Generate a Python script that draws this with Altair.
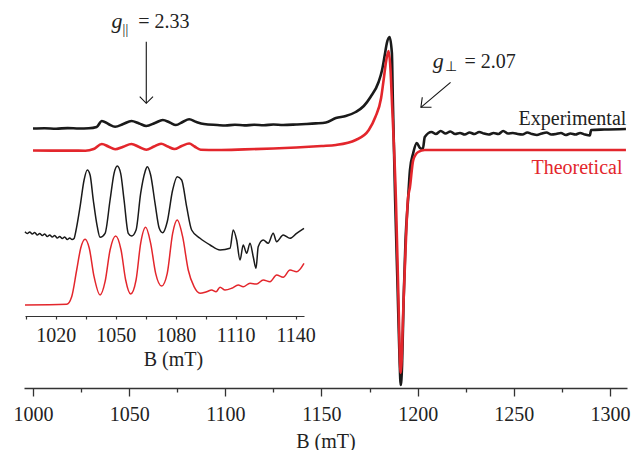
import altair as alt
import pandas as pd

# ---------------- main spectrum (B in mT, intensity in a.u.) ----------------
exp_B = [1000, 1006, 1012, 1018, 1024, 1029, 1033.1, 1035.8, 1039.2, 1042.7, 1046.9,
         1051.2, 1055.2, 1058.9, 1063.4, 1067.5, 1071.1, 1074.3, 1077.8, 1081.2, 1085.0,
         1088.9, 1095.8, 1100, 1105, 1110, 1115, 1120, 1125, 1130, 1136.9, 1142, 1147,
         1152.3, 1157.5, 1162.6, 1167.8, 1172, 1175.5, 1179.7, 1181.5, 1182.9, 1184.0,
         1185.4, 1186.6, 1187.1, 1188.3, 1189.6, 1190.6, 1191.2, 1191.9, 1192.7, 1193.7,
         1195.0, 1196.0, 1197.7, 1199.5, 1201.2, 1202.7, 1203.7, 1207.2,
         1209.5, 1212, 1214.5, 1217, 1219.5, 1222, 1224.5, 1227, 1229.5, 1232, 1234.5,
         1237, 1239.5, 1242, 1244.5, 1247, 1249.5, 1252, 1254.5, 1257, 1259.5, 1262,
         1264.5, 1267, 1269.5, 1272, 1274.5, 1277, 1279.5, 1282, 1284.5, 1287, 1289.5,
         1290.2, 1297, 1308.3]
exp_I = [259.5, 259.8, 259.3, 259.9, 259.5, 259.7, 261, 267, 264, 261.3, 264,
         267, 264.5, 262, 265, 268, 265.5, 263, 266, 268.7, 266,
         264, 263, 262.5, 263.3, 262.6, 263.2, 262.7, 263.5, 263, 263.5, 264, 264.6,
         265.5, 270, 272, 276, 282, 291, 306, 318, 333, 345,
         351, 335, 288, 188, 98, 28, 3, 23, 88, 148,
         188, 218, 235, 245, 240, 239, 251, 256,
         254, 257, 254.5, 256.5, 254, 255, 253.5, 255.5, 254, 256, 254.5,
         253.5, 255, 254, 257, 254.5, 255, 254, 253.5, 255.5, 254, 253,
         254.5, 255.5, 253.5, 254, 255, 253, 254.5, 253.5, 255, 253.5, 252.5,
         258, 258.5, 259]

theo_B = [1000, 1010, 1020, 1027.2, 1031.5, 1035.8, 1039.2, 1042.7, 1046.9, 1051.2,
          1055.2, 1058.9, 1062.9, 1066.6, 1070.1, 1073.5, 1077.3, 1081.2, 1084.0, 1087.2,
          1095.8, 1110, 1125, 1136.9, 1150, 1157.5, 1167.8, 1174.6, 1178.0, 1181.0,
          1182.3, 1183.7, 1184.9, 1185.9, 1186.6, 1188.7, 1189.9, 1191.2, 1192.7, 1193.7,
          1194.9, 1196.0, 1197.7, 1200.3, 1203.7, 1250, 1308.3]
theo_I = [237.5, 237.4, 237.4, 237.3, 239, 244, 241.5, 238.7, 241.3, 244,
          241, 238.3, 241.5, 244.3, 241.5, 239, 242, 244.5, 241.5, 238.3,
          238, 238.6, 239.5, 240.5, 242, 243, 248, 258, 271, 290,
          308, 328, 337, 318, 288, 188, 98, 15, 88, 138,
          188, 201, 228, 236, 238, 238, 238]

# ---------------- inset (parallel region, B in mT) ----------------
ins_exp_B = [1004.65, 1005.8, 1007.0, 1008.3, 1009.5, 1010.8, 1012.0, 1013.3, 1014.5,
             1015.8, 1017.0, 1018.3, 1019.5, 1020.8, 1022.0, 1023.3, 1024.5, 1025.8,
             1027.0, 1028.2, 1029.2, 1030.0, 1032.2, 1034.2, 1035.8,
             1037.2, 1038.8, 1040.8, 1042.2, 1044.7, 1047.2, 1049.2, 1050.8, 1052.5,
             1054.2, 1056.3, 1058.0, 1060.2, 1062.5, 1064.7, 1065.8, 1067.5, 1069.7,
             1071.8, 1073.5, 1075.8, 1078.5, 1080.8, 1083.0, 1085.5, 1088.0, 1092.2,
             1097.2, 1102.2, 1107.2, 1108.8, 1110.5, 1112.2, 1113.8, 1115.5, 1117.2,
             1118.8, 1120.2, 1121.3, 1123.8, 1126.3, 1128.8, 1130.5, 1133.8, 1137.2,
             1140.5, 1144.2]
ins_exp_I = [84.3, 82.5, 84, 82, 83.5, 81, 82.5, 80.5, 82,
             79.5, 81, 79, 80.5, 78, 79.5, 77.5, 79, 76.5,
             78, 76.5, 77.5, 84, 109.3, 136, 146,
             141, 116, 89.3, 78.7, 82.7, 116, 142.7, 150, 142.7,
             116, 82.7, 80, 86, 122.7, 144.3, 149.3, 141, 112.7,
             87.7, 83.3, 94.3, 126, 139.3, 136, 109.3, 86, 77.7,
             71, 66, 67.7, 86, 76, 56, 71, 62.7, 72.7,
             59.3, 47.7, 69.3, 76, 72.7, 82.7, 74.3, 81, 77.7,
             82.7, 87.7]

ins_theo_B = [1004.65, 1025.5, 1028.0, 1030.5, 1032.5, 1034.7, 1036.8, 1039.2, 1042.2,
              1044.7, 1047.2, 1050.0, 1052.7, 1055.0, 1057.5, 1060.2, 1062.5, 1065.0,
              1067.5, 1070.0, 1073.0, 1075.8, 1078.5, 1080.8, 1083.5, 1086.3, 1089.2,
              1092.2, 1095.5, 1098.0, 1100.2, 1102.2, 1104.7, 1108.0, 1111.3, 1113.8,
              1117.2, 1120.5, 1123.8, 1127.2, 1130.5, 1133.8, 1137.2, 1140.5, 1144.2]
ins_theo_I = [11, 11.7, 19.3, 46, 67.7, 76.7, 67.7, 39.3, 21,
              34.3, 66, 80, 66, 36, 22, 36, 72.7, 88.7,
              72.7, 42.7, 30, 42.7, 82.7, 96, 79.3, 46, 29.3,
              22.7, 24.3, 26, 24.3, 28.7, 26, 27.7, 31, 29.3,
              32.7, 32, 36, 34.3, 41, 38.7, 46, 44.3, 52.7]

# ---------------- ticks ----------------
main_ticks = list(range(1000, 1301, 25))
inset_ticks = list(range(1005, 1141, 15))

# ---------------- annotations (data coordinates) ----------------
g_text = ["g", "g"]
g_B = [1040.8, 1207.9]
g_I = [360, 320]
sub_text = ["||", "\u22a5"]
sub_B = [1046.6, 1214.3]
sub_I = [354, 317]
eq_text = ["= 2.33", "= 2.07"]
eq_B = [1054.7, 1224.4]
eq_I = [360, 320]

arrow_B = [1058.9, 1058.9, 1055.5, 1058.9, 1062.4,
           1217.1, 1201.7, 1202.4, 1201.7, 1207.2]
arrow_I = [346.3, 284.7, 291.3, 284.7, 291.3,
           305.7, 280.7, 290.7, 280.7, 280.7]
arrow_seg = ["a", "a", "ah", "ah", "ah", "b", "b", "bh", "bh", "bh"]
arrow_ord = [0, 1, 0, 1, 2, 0, 1, 0, 1, 2]

BLACK = "#1a1a1a"
RED = "#e3262c"
FONT = "Liberation Serif"

df_exp = pd.DataFrame({"B": exp_B, "I": exp_I})
df_theo = pd.DataFrame({"B": theo_B, "I": theo_I})
df_iexp = pd.DataFrame({"Bi": ins_exp_B, "Ii": ins_exp_I})
df_itheo = pd.DataFrame({"Bi": ins_theo_B, "Ii": ins_theo_I})
df_arrow = pd.DataFrame({"B": arrow_B, "I": arrow_I, "seg": arrow_seg, "ord": arrow_ord})
df_g = pd.DataFrame({"B": g_B, "I": g_I, "t": g_text})
df_sub = pd.DataFrame({"B": sub_B, "I": sub_I, "t": sub_text})
df_eq = pd.DataFrame({"B": eq_B, "I": eq_I, "t": eq_text})
df_exp_lbl = pd.DataFrame({"B": [1308.5], "I": [263], "t": ["Experimental"]})
df_theo_lbl = pd.DataFrame({"B": [1306.5], "I": [214], "t": ["Theoretical"]})

main_axis = alt.Axis(
    values=main_ticks, format="d",
    labelExpr="datum.value % 50 === 0 ? datum.label : ''",
    tickSize={"condition": {"test": "datum.value % 50 === 0", "value": 8}, "value": 4},
    labelFont=FONT, labelFontSize=20, labelColor="#222", labelPadding=8,
    labelFlush=False, labelOverlap=False,
    domainColor="#333", domainWidth=1.3, tickColor="#333", tickWidth=1.3,
    grid=False, title="B (mT)", titleFont=FONT, titleFontSize=20,
    titleFontWeight="normal", titleColor="#222", titlePadding=7,
)
X = alt.X("B:Q", scale=alt.Scale(domain=[995.32, 1308.85], nice=False, zero=False), axis=main_axis)
Y = alt.Y("I:Q", scale=alt.Scale(domain=[0, 378], nice=False, zero=False), axis=None)

inset_axis = alt.Axis(
    orient="bottom", offset=-72, values=inset_ticks, format="d",
    labelExpr="(datum.value - 1020) % 30 === 0 ? datum.label : ''",
    tickSize=3, labelFont=FONT, labelFontSize=20, labelColor="#222", labelPadding=6,
    labelFlush=False, labelOverlap=False,
    domainColor="#333", domainWidth=1.2, tickColor="#333", tickWidth=1.2,
    grid=False, title="B (mT)", titleFont=FONT, titleFontSize=20,
    titleFontWeight="normal", titleColor="#222", titlePadding=4,
    titleX=149, titleAlign="center",
)
XI = alt.X("Bi:Q", scale=alt.Scale(domain=[1004.65, 1144.2], range=[1, 280], nice=False, zero=False),
           axis=inset_axis)
YI = alt.Y("Ii:Q", scale=alt.Scale(domain=[0, 166], range=[306, 140], nice=False, zero=False),
           axis=None)

black = alt.Chart(df_exp).mark_line(color=BLACK, strokeWidth=2.6, interpolate="monotone").encode(X, Y)
red = alt.Chart(df_theo).mark_line(color=RED, strokeWidth=2.6, interpolate="monotone").encode(X, Y)
arrows = alt.Chart(df_arrow).mark_line(color="#111", strokeWidth=1.1).encode(
    X, Y, detail="seg:N", order="ord:Q")
g_marks = alt.Chart(df_g).mark_text(font=FONT, fontSize=22, fontStyle="italic", align="left",
                                    baseline="alphabetic", color="#222").encode(X, Y, text="t:N")
sub_marks = alt.Chart(df_sub).mark_text(font=FONT, fontSize=14, align="left",
                                        baseline="alphabetic", color="#111").encode(X, Y, text="t:N")
eq_marks = alt.Chart(df_eq).mark_text(font=FONT, fontSize=20, align="left",
                                      baseline="alphabetic", color="#222").encode(X, Y, text="t:N")
exp_lbl = alt.Chart(df_exp_lbl).mark_text(font=FONT, fontSize=20, align="right",
                                          baseline="alphabetic", color="#222").encode(X, Y, text="t:N")
theo_lbl = alt.Chart(df_theo_lbl).mark_text(font=FONT, fontSize=20, align="right",
                                            baseline="alphabetic", color=RED).encode(X, Y, text="t:N")

main_layer = alt.layer(black, red, arrows, g_marks, sub_marks, eq_marks, exp_lbl, theo_lbl)

iblack = alt.Chart(df_iexp).mark_line(color=BLACK, strokeWidth=1.5, interpolate="monotone").encode(XI, YI)
ired = alt.Chart(df_itheo).mark_line(color=RED, strokeWidth=1.5, interpolate="monotone").encode(XI, YI)
inset_layer = alt.layer(iblack, ired)

chart = alt.layer(main_layer, inset_layer).resolve_scale(x="independent", y="independent").properties(
    width=603, height=378,
    autosize=alt.AutoSizeParams(type="none"),
    padding={"left": 16, "top": 2, "right": 4, "bottom": 62},
    background="white",
).configure_view(stroke=None)

chart.save("out.html", embed_options={"renderer": "svg", "actions": False})
